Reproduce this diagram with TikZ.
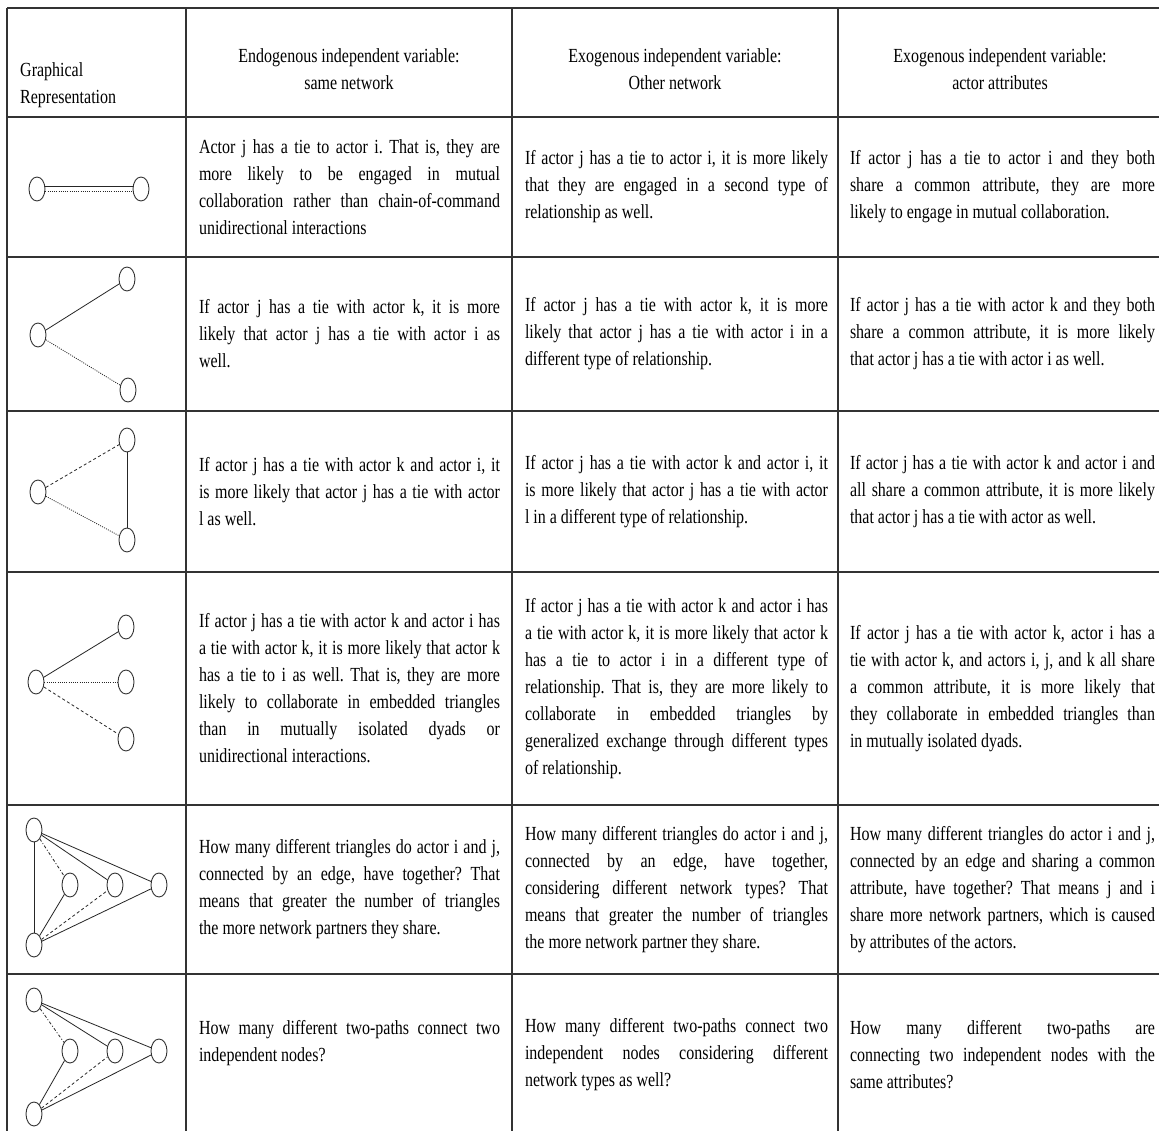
\documentclass[tikz,border=0pt]{standalone}
\usepackage{fontspec}
\setmainfont{Liberation Serif}[FakeStretch=0.8]
\usetikzlibrary{shapes.geometric}
\frenchspacing

\begin{document}
\begin{tikzpicture}[x=1pt,y=-1pt,
  actor/.style={ellipse,draw=black!80,line width=0.9pt,minimum width=16pt,minimum height=24pt,inner sep=0pt},
  tie/.style={draw=black!85,line width=0.8pt},
  dottie/.style={tie,dash pattern=on 1pt off 1.2pt},
  dashtie/.style={tie,dash pattern=on 3pt off 2.5pt},
  dashdottie/.style={tie,dash pattern=on 3pt off 2pt on 1pt off 2pt},
  rule/.style={line width=1.5pt,black!80},
  cell/.style={text width=#1,align=justify,inner sep=0pt,font=\fontsize{20}{27}\selectfont},
  head/.style={align=center,inner sep=0pt,font=\fontsize{20}{27}\selectfont}]

\useasboundingbox (0,0) rectangle (1159,1131);
\fill[white] (0,0) rectangle (1159,1131);

% table rules
\foreach \y in {8,117,257,411,572,805,974}
  \draw[rule] (7,\y) -- (1159,\y);
\foreach \x in {7,186,512,838}
  \draw[rule] (\x,8) -- (\x,1131);

% header
\node[head,align=left,anchor=west] (hgraph) at (20,85) {Graphical\\Representation};
\node[head] (hendo) at (349,69) {Endogenous independent variable:\\same network};
\node[head] (hexo) at (675,69) {Exogenous independent variable:\\Other network};
\node[head] (hattr) at (1000,69) {Exogenous independent variable:\\actor attributes};

% row 1
\node[actor] (n1l) at (37,189) {};
\node[actor] (n1r) at (141,189) {};
\draw[tie] ([yshift=3pt]n1l.east) -- ([yshift=3pt]n1r.west);
\draw[dottie] ([yshift=-2pt]n1l.east) -- ([yshift=-2pt]n1r.west);
\node[cell=301pt] (t1a) at (349.5,187) {Actor j has a tie to actor i. That is, they are\linebreak more likely to be engaged in mutual\linebreak collaboration rather than chain-of-command\linebreak unidirectional interactions};
\node[cell=303pt] (t1b) at (676.5,187) {If actor j has a tie to actor i, it is more likely\linebreak that they are engaged in a second type of\linebreak relationship as well.};
\node[cell=305pt] (t1c) at (1002.5,187) {If actor j has a tie to actor i and they both\linebreak share a common attribute, they are more\linebreak likely to engage in mutual collaboration.};

% row 2
\node[actor] (n2l) at (38,335) {};
\node[actor] (n2t) at (127,279) {};
\node[actor] (n2b) at (128,390) {};
\draw[tie] (n2l) -- (n2t);
\draw[dottie] (n2l) -- (n2b);
\node[cell=301pt] (t2a) at (349.5,334) {If actor j has a tie with actor k, it is more\linebreak likely that actor j has a tie with actor i as\linebreak well.};
\node[cell=303pt] (t2b) at (676.5,334) {If actor j has a tie with actor k, it is more\linebreak likely that actor j has a tie with actor i in a\linebreak different type of relationship.};
\node[cell=305pt] (t2c) at (1002.5,334) {If actor j has a tie with actor k and they both\linebreak share a common attribute, it is more likely\linebreak that actor j has a tie with actor i as well.};

% row 3
\node[actor] (n3l) at (38,492) {};
\node[actor] (n3t) at (127,440) {};
\node[actor] (n3b) at (127,540) {};
\draw[dashtie] (n3l) -- (n3t);
\draw[dottie] (n3l) -- (n3b);
\draw[tie] (n3t) -- (n3b);
\node[cell=301pt] (t3a) at (349.5,491.5) {If actor j has a tie with actor k and actor i, it\linebreak is more likely that actor j has a tie with actor\linebreak l as well.};
\node[cell=303pt] (t3b) at (676.5,491.5) {If actor j has a tie with actor k and actor i, it\linebreak is more likely that actor j has a tie with actor\linebreak l in a different type of relationship.};
\node[cell=305pt] (t3c) at (1002.5,491.5) {If actor j has a tie with actor k and actor i and\linebreak all share a common attribute, it is more likely\linebreak that actor j has a tie with actor as well.};

% row 4
\node[actor] (n4l) at (36,682) {};
\node[actor] (n4t) at (126,627) {};
\node[actor] (n4m) at (126,682) {};
\node[actor] (n4b) at (126,739) {};
\draw[tie] (n4l) -- (n4t);
\draw[dottie] (n4l) -- (n4m);
\draw[dashtie] (n4l) -- (n4b);
\node[cell=301pt] (t4a) at (349.5,688.5) {If actor j has a tie with actor k and actor i has\linebreak a tie with actor k, it is more likely that actor k\linebreak has a tie to i as well. That is, they are more\linebreak likely to collaborate in embedded triangles\linebreak than in mutually isolated dyads or\linebreak unidirectional interactions.};
\node[cell=303pt] (t4b) at (676.5,688.5) {If actor j has a tie with actor k and actor i has\linebreak a tie with actor k, it is more likely that actor k\linebreak has a tie to actor i in a different type of\linebreak relationship. That is, they are more likely to\linebreak collaborate in embedded triangles by\linebreak generalized exchange through different types\linebreak of relationship.};
\node[cell=305pt] (t4c) at (1002.5,688.5) {If actor j has a tie with actor k, actor i has a\linebreak tie with actor k, and actors i, j, and k all share\linebreak a common attribute, it is more likely that\linebreak they collaborate in embedded triangles than\linebreak in mutually isolated dyads.};

% row 5
\node[actor] (n5a) at (34,830) {};
\node[actor] (n5b) at (34,945) {};
\node[actor] (n5c) at (70,885) {};
\node[actor] (n5d) at (115,885) {};
\node[actor] (n5e) at (159,885) {};
\draw[tie] (n5a) -- (n5b);
\draw[dashdottie] (n5a) -- (n5c);
\draw[tie] (n5a) -- (n5d);
\draw[tie] (n5a) -- (n5e);
\draw[tie] (n5b) -- (n5c);
\draw[dashtie] (n5b) -- (n5d);
\draw[tie] (n5b) -- (n5e);
\node[cell=301pt] (t5a) at (349.5,889.5) {How many different triangles do actor i and j,\linebreak connected by an edge, have together? That\linebreak means that greater the number of triangles\linebreak the more network partners they share.};
\node[cell=303pt] (t5b) at (676.5,889.5) {How many different triangles do actor i and j,\linebreak connected by an edge, have together,\linebreak considering different network types? That\linebreak means that greater the number of triangles\linebreak the more network partner they share.};
\node[cell=305pt] (t5c) at (1002.5,889.5) {How many different triangles do actor i and j,\linebreak connected by an edge and sharing a common\linebreak attribute, have together? That means j and i\linebreak share more network partners, which is caused\linebreak by attributes of the actors.};

% row 6
\node[actor] (n6a) at (34,1000) {};
\node[actor] (n6b) at (34,1114) {};
\node[actor] (n6c) at (70,1051) {};
\node[actor] (n6d) at (115,1051) {};
\node[actor] (n6e) at (159,1051) {};
\draw[dashdottie] (n6a) -- (n6c);
\draw[tie] (n6a) -- (n6d);
\draw[tie] (n6a) -- (n6e);
\draw[tie] (n6b) -- (n6c);
\draw[dashtie] (n6b) -- (n6d);
\draw[tie] (n6b) -- (n6e);
\node[cell=301pt] (t6a) at (349.5,1043) {How many different two-paths connect two\linebreak independent nodes?};
\node[cell=303pt] (t6b) at (676.5,1055) {How many different two-paths connect two\linebreak independent nodes considering different\linebreak network types as well?};
\node[cell=305pt] (t6c) at (1002.5,1055) {How many different two-paths are\linebreak connecting two independent nodes with the\linebreak same attributes?};
\end{tikzpicture}
\end{document}
